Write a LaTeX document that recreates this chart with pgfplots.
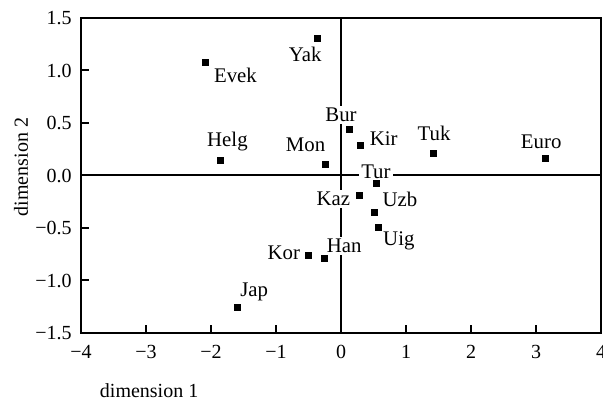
\documentclass[border=0pt]{standalone}
\usepackage{fontspec}
\setmainfont{Liberation Serif}
\usepackage{pgfplots}
\pgfplotsset{compat=1.18}
\begin{document}
\begin{tikzpicture}
\begin{axis}[name=ax, scale only axis, width=260pt, height=157.5pt,
  xmin=-4, xmax=4, ymin=-1.5, ymax=1.5,
  xtick={-4,-3,-2,-1,0,1,2,3,4},
  xticklabels={−4,−3,−2,−1,0,1,2,3,4},
  ytick={-1.5,-1,-0.5,0,0.5,1,1.5},
  yticklabels={−1.5,−1.0,−0.5,0.0,0.5,1.0,1.5},
  tick align=inside, tick pos=left,
  major tick length=4pt,
  axis line style={line width=1.1pt},
  tick style={line width=1pt, black},
  /pgf/number format/assume math mode=true,
  every tick label/.append style={font=\fontsize{10}{12}\selectfont},
  xticklabel style={yshift=-2.5pt},
  yticklabel style={xshift=-1.2pt},
  xlabel={dimension 1}, ylabel={dimension 2},
  label style={font=\fontsize{10}{12}\selectfont},
  xlabel style={at={(axis description cs:0.131,-0.206)}, anchor=base},
  ylabel style={at={(axis description cs:-0.1154,0.527)}, anchor=center},
  clip=false,
]
\addplot[black, line width=1pt, forget plot] coordinates {(-4,0) (4,0)};
\addplot[black, line width=1pt, forget plot] coordinates {(0,-1.5) (0,1.5)};

\tikzset{lab/.style={fill=white, inner sep=1pt, font=\fontsize{10.4}{12}\selectfont}}
\node[lab, anchor=base west] at (axis cs:-1.99,0.888) {Evek};
\node[lab, anchor=base] at (axis cs:-1.747,0.277) {Helg};
\node[lab, anchor=base] at (axis cs:-0.55,1.083) {Yak};
\node[lab, anchor=base] at (axis cs:0.0,0.516) {Bur};
\node[lab, anchor=base west] at (axis cs:0.408,0.287) {Kir};
\node[lab, anchor=base east] at (axis cs:-0.205,0.229) {Mon};
\node[lab, anchor=base] at (axis cs:1.431,0.334) {Tuk};
\node[lab, anchor=base] at (axis cs:3.08,0.255) {Euro};
\node[lab, anchor=base] at (axis cs:0.537,-0.032) {Tur};
\node[lab, anchor=base east] at (axis cs:0.178,-0.289) {Kaz};
\node[lab, anchor=base west] at (axis cs:0.603,-0.296) {Uzb};
\node[lab, anchor=base west] at (axis cs:0.613,-0.662) {Uig};
\node[lab, anchor=base east] at (axis cs:-0.594,-0.796) {Kor};
\node[lab, anchor=base west] at (axis cs:-0.256,-0.735) {Han};
\node[lab, anchor=base west] at (axis cs:-1.586,-1.156) {Jap};

\addplot[only marks, mark=square*, mark size=1.5pt, black] table {
x y
-2.09 1.074
-1.86 0.14
-0.36 1.31
0.13 0.44
0.30 0.29
-0.24 0.11
1.42 0.21
3.14 0.16
0.55 -0.08
0.29 -0.19
0.52 -0.35
0.57 -0.49
-0.50 -0.76
-0.25 -0.79
-1.60 -1.254
};
\end{axis}
\pgfresetboundingbox
\path ([xshift=-40.5pt,yshift=-33.5pt]ax.south west) rectangle ([xshift=1pt,yshift=9pt]ax.north east);
\end{tikzpicture}
\end{document}
